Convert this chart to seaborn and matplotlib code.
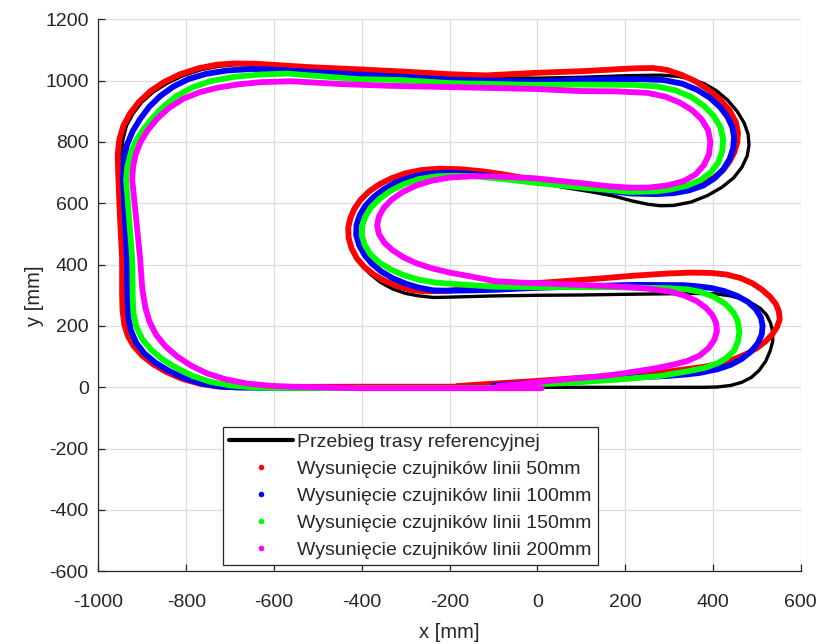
import matplotlib
matplotlib.use("Agg")
import matplotlib.pyplot as plt
from matplotlib.lines import Line2D
import seaborn as sns
import pandas as pd

# ---------------- data (x, y in mm) ----------------
ref_xy = [(0, 0), (100, 0), (200, 0), (300, 0), (380, 0), (410, 1), (440, 6), (465, 16), (487, 32), (505, 55),
          (520, 85), (530, 118), (536, 150), (536, 180), (531, 210), (522, 236), (508, 257), (490, 273),
          (468, 287), (440, 298), (405, 305), (360, 306), (300, 305), (189, 303), (100, 301), (0, 300),
          (-100, 298), (-200, 294), (-237, 293), (-270, 298), (-300, 306), (-330, 321), (-357, 342),
          (-380, 368), (-400, 398), (-415, 430), (-426, 463), (-432, 497), (-431, 530), (-424, 562),
          (-412, 594), (-394, 624), (-370, 651), (-340, 675), (-305, 693), (-265, 703), (-220, 707),
          (-170, 704), (-120, 697), (-60, 684), (0, 668), (60, 652), (120, 638), (173, 624), (215, 608),
          (251, 597), (280, 592), (310, 593), (350, 604), (387, 625), (420, 652), (447, 683), (466, 718),
          (478, 755), (482, 790), (480, 825), (471, 862), (455, 900), (433, 937), (408, 967), (380, 990),
          (350, 1005), (320, 1014), (280, 1018), (200, 1016), (100, 1011), (0, 1008), (-100, 1010),
          (-200, 1016), (-300, 1023), (-400, 1030), (-500, 1038), (-560, 1045), (-640, 1052), (-685, 1052),
          (-725, 1047), (-765, 1036), (-806, 1017), (-843, 992), (-875, 963), (-901, 930), (-921, 893),
          (-936, 853), (-944, 810), (-948, 760), (-948, 700), (-948, 550), (-947, 420), (-946, 300),
          (-944, 240), (-939, 195), (-930, 160), (-915, 127), (-895, 97), (-870, 70), (-840, 47),
          (-805, 27), (-765, 12), (-725, 3), (-680, 0), (-600, 0), (-400, 0), (-200, 0), (0, 0)]

red_xy = [(-182, 4), (-100, 12), (-9, 20), (100, 31), (219, 42), (290, 50), (333, 58), (375, 66), (410, 75),
          (445, 90), (475, 108), (500, 128), (520, 150), (535, 173), (546, 197), (552, 222), (550, 248),
          (543, 272), (530, 295), (512, 318), (490, 339), (463, 356), (430, 368), (394, 373), (350, 374),
          (296, 371), (220, 364), (144, 355), (60, 346), (-9, 339), (-90, 331), (-160, 321), (-210, 314),
          (-260, 313), (-290, 318), (-320, 330), (-348, 347), (-373, 368), (-394, 392), (-411, 420),
          (-423, 452), (-430, 487), (-431, 520), (-426, 552), (-417, 582), (-403, 611), (-384, 638),
          (-360, 662), (-332, 682), (-300, 698), (-262, 709), (-220, 713), (-175, 711), (-130, 705),
          (-84, 696), (-30, 682), (30, 666), (90, 654), (144, 646), (230, 638), (290, 640), (340, 650),
          (375, 663), (403, 684), (422, 707), (437, 735), (448, 765), (455, 797), (457, 830), (452, 865),
          (437, 905), (415, 940), (390, 970), (360, 998), (328, 1019), (295, 1035), (264, 1041), (219, 1040),
          (105, 1031), (-9, 1025), (-117, 1017), (-200, 1021), (-312, 1030), (-410, 1037), (-520, 1044),
          (-640, 1055), (-690, 1056), (-730, 1052), (-770, 1041), (-812, 1022), (-850, 996), (-882, 965),
          (-908, 930), (-928, 893), (-943, 853), (-952, 810), (-956, 760), (-955, 700), (-951, 560),
          (-946, 420), (-946, 300), (-945, 250), (-941, 205), (-933, 168), (-920, 135), (-900, 103),
          (-875, 75), (-845, 50), (-810, 28), (-770, 12), (-730, 3), (-690, 0), (-640, 1), (-400, 2),
          (-200, 2), (0, 2)]

blue_xy = [(-100, 6), (-9, 14), (144, 27), (296, 37), (340, 42), (370, 47), (410, 59), (440, 73), (465, 92),
           (486, 116), (502, 143), (511, 172), (513, 200), (509, 228), (498, 254), (480, 278), (455, 298),
           (425, 314), (395, 324), (360, 330), (333, 333), (219, 334), (100, 329), (-9, 324), (-96, 318),
           (-150, 316), (-200, 315), (-237, 316), (-270, 325), (-300, 338), (-330, 356), (-356, 378),
           (-377, 403), (-394, 432), (-406, 463), (-413, 497), (-412, 530), (-405, 560), (-393, 590),
           (-375, 618), (-352, 644), (-325, 666), (-292, 684), (-255, 695), (-210, 700), (-160, 697),
           (-110, 690), (-50, 680), (0, 672), (98, 652), (212, 632), (270, 630), (310, 633), (345, 642),
           (378, 658), (404, 682), (424, 712), (438, 745), (446, 780), (448, 815), (444, 848), (433, 882),
           (416, 914), (393, 944), (364, 970), (330, 990), (287, 1002), (230, 1005), (98, 1003), (0, 997),
           (-100, 1000), (-200, 1003), (-312, 1013), (-410, 1020), (-520, 1029), (-602, 1036), (-650, 1038),
           (-707, 1033), (-755, 1022), (-795, 1005), (-830, 980), (-859, 950), (-884, 915), (-905, 875),
           (-922, 835), (-935, 790), (-942, 740), (-944, 687), (-940, 560), (-935, 420), (-934, 300),
           (-932, 230), (-926, 185), (-914, 145), (-895, 110), (-870, 80), (-840, 54), (-805, 30),
           (-765, 12), (-720, 2), (-670, -1), (-600, -2), (-400, -2), (-200, -2), (0, -1)]

green_xy = [(-60, 6), (0, 10), (68, 14), (189, 26), (280, 37), (342, 52), (380, 63), (410, 78), (432, 97),
            (448, 120), (457, 150), (460, 184), (456, 217), (446, 245), (428, 272), (402, 295), (372, 311),
            (342, 319), (300, 323), (189, 326), (100, 327), (-9, 327), (-96, 328), (-171, 335), (-230, 341),
            (-271, 351), (-305, 366), (-335, 385), (-360, 407), (-380, 433), (-393, 463), (-400, 495),
            (-399, 527), (-392, 557), (-379, 587), (-360, 614), (-335, 640), (-305, 662), (-270, 679),
            (-230, 688), (-185, 690), (-140, 688), (-84, 680), (0, 666), (98, 652), (212, 637), (270, 639),
            (303, 645), (340, 657), (372, 676), (396, 702), (412, 733), (421, 770), (423, 810), (417, 848),
            (402, 884), (380, 917), (350, 947), (315, 968), (273, 981), (219, 986), (98, 987), (-9, 986),
            (-200, 992), (-312, 1002), (-410, 1005), (-500, 1015), (-570, 1023), (-630, 1020), (-693, 1012),
            (-745, 998), (-786, 978), (-822, 950), (-852, 915), (-877, 878), (-898, 840), (-914, 805),
            (-926, 765), (-934, 720), (-937, 677), (-930, 550), (-923, 420), (-922, 300), (-920, 240),
            (-913, 195), (-900, 157), (-880, 123), (-855, 92), (-822, 63), (-785, 37), (-745, 18),
            (-700, 6), (-650, 0), (-600, -2), (-400, -2), (-200, -2), (0, -1)]

mag_xy = [(-90, 4), (-40, 10), (7, 18), (80, 28), (144, 36), (189, 44), (265, 61), (310, 74), (342, 86),
          (370, 104), (390, 128), (403, 155), (409, 183), (407, 210), (399, 235), (384, 259), (363, 281),
          (335, 299), (303, 312), (250, 322), (189, 328), (144, 331), (60, 336), (-32, 341), (-96, 346),
          (-157, 363), (-200, 374), (-240, 388), (-275, 404), (-305, 424), (-330, 447), (-349, 472),
          (-361, 500), (-365, 528), (-361, 557), (-350, 585), (-332, 612), (-307, 637), (-276, 658),
          (-240, 674), (-200, 684), (-150, 688), (-100, 688), (-9, 682), (98, 666), (160, 656), (210, 651),
          (251, 651), (295, 658), (333, 672), (360, 694), (379, 724), (391, 760), (394, 800), (389, 838),
          (374, 874), (352, 904), (325, 928), (291, 948), (251, 960), (180, 965), (98, 966), (-9, 973),
          (-200, 979), (-335, 983), (-450, 989), (-560, 998), (-631, 995), (-680, 988), (-729, 977),
          (-770, 962), (-808, 940), (-840, 910), (-866, 876), (-888, 838), (-904, 800), (-915, 760),
          (-921, 720), (-923, 677), (-914, 550), (-905, 420), (-900, 320), (-893, 260), (-884, 215),
          (-868, 170), (-847, 133), (-820, 100), (-788, 70), (-752, 45), (-710, 26), (-660, 12),
          (-610, 5), (-560, 2), (-400, -3), (-200, -3), (0, -3), (10, -3)]

series_labels = ["Przebieg trasy referencyjnej",
                 "Wysunięcie czujników linii 50mm",
                 "Wysunięcie czujników linii 100mm",
                 "Wysunięcie czujników linii 150mm",
                 "Wysunięcie czujników linii 200mm"]
x_ticks = [-1000, -800, -600, -400, -200, 0, 200, 400, 600]
y_ticks = [-600, -400, -200, 0, 200, 400, 600, 800, 1000, 1200]

# ---------------- styling ----------------
sns.set_style("white")
plt.rcParams["font.family"] = ["Liberation Sans", "DejaVu Sans"]
plt.rcParams["axes.unicode_minus"] = False
FS = 14
TXT = "#262626"

colors = ["black", "#ff0000", "#0000ff", "#00ff00", "#ff00ff"]
widths = [2.4, 4.2, 4.2, 4.2, 4.2]
curves = [ref_xy, red_xy, blue_xy, green_xy, mag_xy]

fig = plt.figure(figsize=(8.19, 6.44), dpi=100)
ax = fig.add_axes([98.4 / 819, 1 - 571.3 / 644, 702.4 / 819, 552 / 644])

for pts, c, w in zip(curves, colors, widths):
    df = pd.DataFrame(pts, columns=["x", "y"])
    sns.lineplot(data=df, x="x", y="y", sort=False, estimator=None, color=c, lw=w,
                 ax=ax, solid_capstyle="round", solid_joinstyle="round", legend=False)

ax.set_xlim(-1000, 600)
ax.set_ylim(-600, 1200)
ax.set_xticks(x_ticks)
ax.set_yticks(y_ticks)
ax.set_xticklabels([str(v) for v in x_ticks])
ax.set_yticklabels([str(v) for v in y_ticks])
ax.grid(True, color="#dcdcdc", lw=0.9)
ax.set_axisbelow(True)
for s in ["top", "right"]:
    ax.spines[s].set_visible(False)
for s in ["left", "bottom"]:
    ax.spines[s].set_color(TXT)
    ax.spines[s].set_linewidth(0.9)
ax.tick_params(direction="in", length=5, width=0.9, colors=TXT, labelsize=FS,
               left=True, bottom=True)
ax.tick_params(axis="x", pad=16)
ax.tick_params(axis="y", pad=7)
ax.set_xlabel("x [mm]", fontsize=FS + 0.5, color=TXT, labelpad=9)
ax.set_ylabel("y [mm]", fontsize=FS + 0.5, color=TXT, labelpad=1)

handles = [Line2D([], [], color="black", lw=3.0)]
for c in colors[1:]:
    handles.append(Line2D([], [], color=c, marker=".", linestyle="none", markersize=6))
leg = ax.legend(handles, series_labels, loc="lower left", bbox_to_anchor=(0.1774, 0.0114),
                fontsize=FS, frameon=True, fancybox=False, framealpha=1, edgecolor=TXT,
                handlelength=3.3, handletextpad=0.2, labelspacing=0.48, borderpad=0.32,
                borderaxespad=0)
leg.get_frame().set_linewidth(0.9)

fig.savefig("out.png", dpi=100)
